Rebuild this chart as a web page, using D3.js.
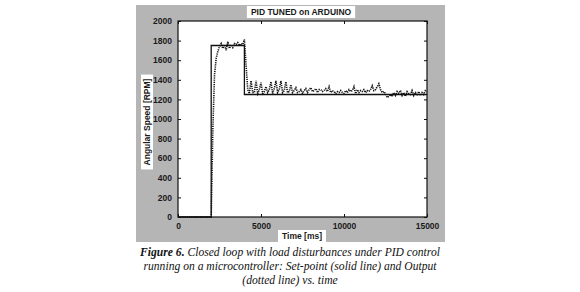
<!DOCTYPE html>
<html>
<head>
<meta charset="utf-8">
<script src="https://cdn.jsdelivr.net/npm/d3@7"></script>
<style>
  body { margin: 0; background: #fff; }
  svg { display: block; }
  .tick-lbl { font-family: "Liberation Sans", Arial, sans-serif; font-size: 8.5px; font-weight: bold; fill: #1a1a1a; }
  .caption { font-family: "Liberation Serif", "Times New Roman", serif; font-size: 11.6px; font-style: italic; fill: #111; }
</style>
</head>
<body>
<svg width="580" height="292"></svg>
<script>
var chartTitle = 'PID TUNED on ARDUINO';
var xLabel = 'Time [ms]';
var yLabel = 'Angular Speed [RPM]';
var xTicks = [0, 5000, 10000, 15000];
var yTicks = [0, 200, 400, 600, 800, 1000, 1200, 1400, 1600, 1800, 2000];

// set-point (solid line): [time ms, rpm]
var setpoint = [[0, 0], [2000, 0], [2000, 1750], [4000, 1750], [4000, 1250], [15000, 1250]];

// output (dotted line), sampled every 100 ms starting at 0
var outputStep = 100;
var output = [
  0, 0, 0, 0, 0, 0, 0, 0, 0, 0,
  0, 0, 0, 0, 0, 0, 0, 0, 0, 0,
  0, 900, 1450, 1620, 1690, 1740, 1770, 1720, 1760, 1700,
  1790, 1720, 1760, 1730, 1770, 1760, 1780, 1750, 1770, 1760,
  1810, 1550, 1300, 1260, 1390, 1270, 1270, 1390, 1260, 1300,
  1370, 1260, 1280, 1330, 1270, 1300, 1380, 1260, 1310, 1390,
  1270, 1300, 1390, 1270, 1290, 1380, 1270, 1280, 1350, 1270,
  1290, 1320, 1270, 1280, 1300, 1260, 1290, 1310, 1270, 1300,
  1320, 1280, 1290, 1310, 1270, 1300, 1300, 1280, 1290, 1310,
  1280, 1330, 1270, 1290, 1280, 1260, 1280, 1270, 1290, 1270,
  1260, 1290, 1270, 1300, 1280, 1290, 1330, 1260, 1300, 1270,
  1290, 1280, 1300, 1270, 1290, 1280, 1300, 1340, 1290, 1300,
  1330, 1360, 1300, 1270, 1280, 1260, 1220, 1230, 1250, 1230,
  1270, 1240, 1280, 1260, 1290, 1240, 1270, 1230, 1280, 1260,
  1250, 1290, 1240, 1270, 1250, 1280, 1240, 1270, 1250, 1290,
  1280
];

var captionLines = [
  ['Figure 6.', ' Closed loop with load disturbances under PID control'],
  ['', 'running on a microcontroller: Set-point (solid line) and Output'],
  ['', '(dotted line) vs. time']
];

var svg = d3.select('svg');

// gray figure panel
svg.append('rect')
  .attr('x', 136).attr('y', 5)
  .attr('width', 309).attr('height', 237)
  .style('fill', '#b5b5b5');

var plot = { left: 178, top: 21, right: 427, bottom: 217 };

var x = d3.scaleLinear().domain([0, 15000]).range([plot.left, plot.right]);
var y = d3.scaleLinear().domain([0, 2000]).range([plot.bottom, plot.top]);

svg.append('rect')
  .attr('x', plot.left).attr('y', plot.top)
  .attr('width', plot.right - plot.left).attr('height', plot.bottom - plot.top)
  .style('fill', '#fff');

// inward ticks on all four sides
function axisStyle(g) {
  g.select('.domain').remove();
  g.selectAll('.tick line').style('stroke', '#111').style('stroke-width', 1);
}

var fmt = d3.format('d');

svg.append('g')
  .attr('transform', 'translate(0,' + plot.bottom + ')')
  .call(d3.axisBottom(x).tickValues(xTicks).tickFormat(fmt).tickSizeInner(-3).tickSizeOuter(0).tickPadding(6))
  .call(axisStyle);

svg.append('g')
  .attr('transform', 'translate(0,' + plot.top + ')')
  .call(d3.axisTop(x).tickValues(xTicks).tickSizeInner(-3).tickSizeOuter(0).tickFormat(''))
  .call(axisStyle);

svg.append('g')
  .attr('transform', 'translate(' + plot.left + ',0)')
  .call(d3.axisLeft(y).tickValues(yTicks).tickFormat(fmt).tickSizeInner(-3).tickSizeOuter(0).tickPadding(6))
  .call(axisStyle);

svg.append('g')
  .attr('transform', 'translate(' + plot.right + ',0)')
  .call(d3.axisRight(y).tickValues(yTicks).tickSizeInner(-3).tickSizeOuter(0).tickFormat(''))
  .call(axisStyle);

svg.selectAll('g.tick text')
  .attr('class', 'tick-lbl')
  .attr('font-size', null)
  .attr('font-family', null)
  .attr('fill', null);

// data lines
var line = d3.line().x(d => x(d[0])).y(d => y(d[1]));

svg.append('path')
  .datum(setpoint)
  .attr('d', line)
  .style('fill', 'none')
  .style('stroke', '#111')
  .style('stroke-width', 1.3);

svg.append('path')
  .datum(output.map((v, i) => [i * outputStep, v]))
  .attr('d', line)
  .style('fill', 'none')
  .style('stroke', '#111')
  .style('stroke-width', 1.6)
  .style('stroke-dasharray', '1.2,1');

// plot box
svg.append('rect')
  .attr('x', plot.left).attr('y', plot.top)
  .attr('width', plot.right - plot.left).attr('height', plot.bottom - plot.top)
  .style('fill', 'none').style('stroke', '#111').style('stroke-width', 1.2);

// labelled boxes (title, axis labels)
function boxedText(txt, cx, cy, rotate) {
  var g = svg.append('g').attr('transform', 'translate(' + cx + ',' + cy + ')' + (rotate ? ' rotate(-90)' : ''));
  var t = g.append('text')
    .attr('text-anchor', 'middle')
    .attr('dy', '0.35em')
    .style('font-family', '"Liberation Sans", Arial, sans-serif')
    .style('font-size', '8.5px')
    .style('font-weight', 'bold')
    .style('fill', '#1a1a1a')
    .text(txt);
  var w = t.node().getComputedTextLength();
  g.insert('rect', 'text')
    .attr('x', -w / 2 - 4).attr('y', -6)
    .attr('width', w + 8).attr('height', 12)
    .style('fill', '#fff');
}

boxedText(chartTitle, 301, 12, false);
boxedText(xLabel, 302, 236, false);
boxedText(yLabel, 147, 122, true);

// caption
captionLines.forEach((ln, i) => {
  var t = svg.append('text')
    .attr('class', 'caption')
    .attr('x', 290)
    .attr('y', 256 + i * 14)
    .attr('text-anchor', 'middle')
    .attr('transform', 'translate(0,' + (-(256 + i * 14) * 0.15) + ') scale(1,1.15)');
  if (ln[0]) t.append('tspan').style('font-weight', 'bold').text(ln[0]);
  t.append('tspan').text(ln[1]);
});
</script>
</body>
</html>
